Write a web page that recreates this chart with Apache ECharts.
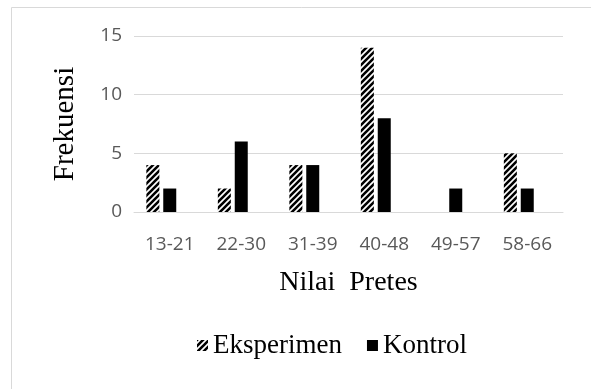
<!DOCTYPE html>
<html>
<head>
<meta charset="utf-8">
<script src="https://cdn.jsdelivr.net/npm/echarts@6/dist/echarts.min.js"></script>
<style>
  html, body { margin: 0; padding: 0; background: #fff; }
  #chart { width: 591px; height: 389px; }
</style>
</head>
<body>
<div id="chart"></div>
<script>
const categories = ['13-21', '22-30', '31-39', '40-48', '49-57', '58-66'];
const eksperimen = [4, 2, 4, 14, 0, 5];
const kontrol = [2, 6, 4, 8, 2, 2];
// the source workbook has a third, empty series that still takes a bar slot
const emptySlot = [null, null, null, null, null, null];
const yTicks = [0, 5, 10, 15];

// diagonal hatch for the Eksperimen bars
function makeHatch() {
  const s = 6;
  const c = document.createElement('canvas');
  c.width = s;
  c.height = s;
  const ctx = c.getContext('2d');
  ctx.fillStyle = '#fff';
  ctx.fillRect(0, 0, s, s);
  ctx.strokeStyle = '#000';
  ctx.lineWidth = 2.6;
  ctx.beginPath();
  ctx.moveTo(-2, 2); ctx.lineTo(2, -2);
  ctx.moveTo(0, s); ctx.lineTo(s, 0);
  ctx.moveTo(s - 2, s + 2); ctx.lineTo(s + 2, s - 2);
  ctx.stroke();
  return c;
}

const myChart = echarts.init(document.getElementById('chart'), null, { renderer: 'canvas' });

const option = {
  animation: false,
  backgroundColor: '#fff',
  graphic: [
    {
      type: 'rect',
      shape: { x: 11.5, y: 7.5, width: 700, height: 500 },
      style: { fill: 'none', stroke: '#d9d9d9', lineWidth: 1 },
      silent: true
    }
  ],
  grid: {
    left: 134,
    right: 28,
    top: 36,
    bottom: 177
  },
  legend: {
    left: 192,
    top: 327,
    itemWidth: 11,
    itemHeight: 11,
    itemGap: 25,
    icon: 'rect',
    textStyle: {
      fontFamily: 'Liberation Serif',
      fontSize: 27,
      color: '#000'
    },
    data: ['Eksperimen', 'Kontrol']
  },
  xAxis: {
    type: 'category',
    data: categories,
    name: 'Nilai  Pretes',
    nameLocation: 'middle',
    nameGap: 57,
    nameTextStyle: {
      fontFamily: 'Liberation Serif',
      fontSize: 28,
      color: '#000'
    },
    axisLine: { lineStyle: { color: '#d9d9d9', width: 1 } },
    axisTick: { show: false },
    axisLabel: {
      margin: 23,
      fontFamily: 'Open Sans',
      fontSize: 19,
      color: '#595959'
    }
  },
  yAxis: {
    type: 'value',
    min: 0,
    max: yTicks[yTicks.length - 1],
    interval: 5,
    name: 'Frekuensi',
    nameLocation: 'middle',
    nameRotate: 90,
    nameGap: 54,
    nameTextStyle: {
      fontFamily: 'Liberation Serif',
      fontSize: 29,
      color: '#000'
    },
    axisLine: { show: false },
    axisTick: { show: false },
    splitLine: { lineStyle: { color: '#d9d9d9', width: 1 } },
    axisLabel: {
      margin: 12,
      fontFamily: 'Open Sans',
      fontSize: 19,
      color: '#595959'
    }
  },
  series: [
    {
      name: 'Eksperimen',
      type: 'bar',
      barWidth: 13,
      barGap: '30%',
      itemStyle: {
        color: { image: makeHatch(), repeat: 'repeat' }
      },
      data: eksperimen
    },
    {
      name: 'Kontrol',
      type: 'bar',
      barWidth: 13,
      barGap: '30%',
      itemStyle: { color: '#000' },
      data: kontrol
    },
    {
      name: 'empty',
      type: 'bar',
      barWidth: 13,
      barGap: '30%',
      silent: true,
      data: emptySlot
    }
  ]
};

option && myChart.setOption(option);
</script>
</body>
</html>
